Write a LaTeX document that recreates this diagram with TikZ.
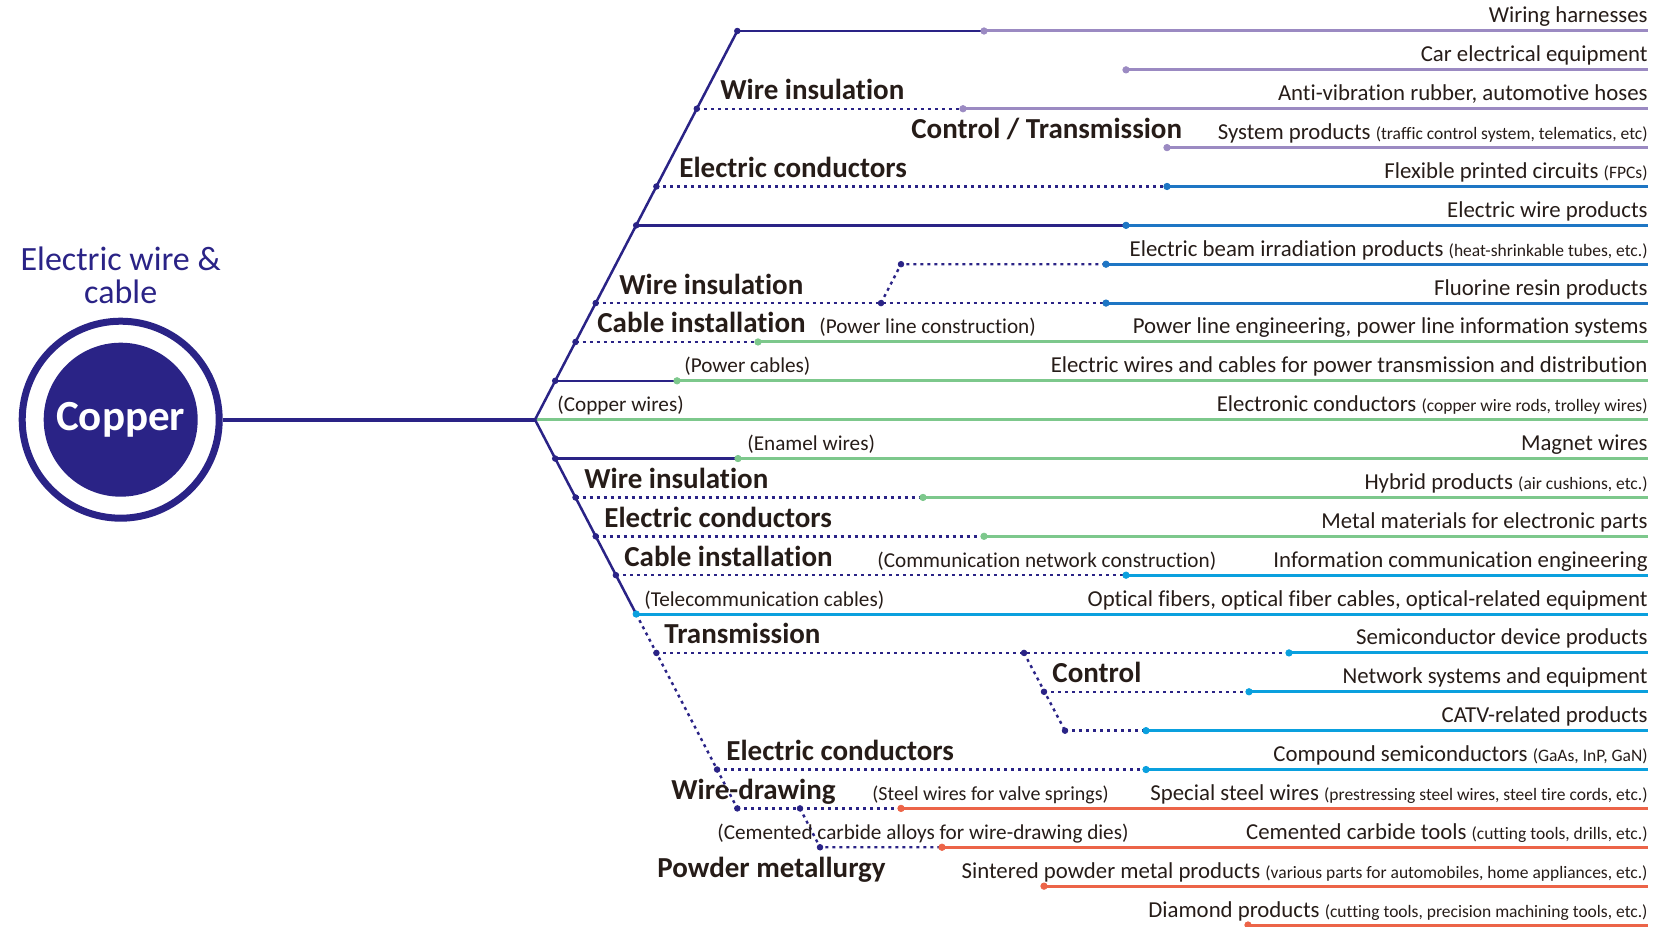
\documentclass[tikz,border=0pt]{standalone}
\usepackage{fontspec}
\setmainfont{Carlito}[Ligatures=CommonOff]
\usepackage{tikz}

\definecolor{navy}{RGB}{42,35,134}
\definecolor{lav}{RGB}{155,138,194}
\definecolor{azure}{RGB}{30,118,196}
\definecolor{sky}{RGB}{10,160,222}
\definecolor{leaf}{RGB}{125,200,140}
\definecolor{coral}{RGB}{236,100,72}
\definecolor{ink}{RGB}{38,28,24}
\newcommand{\parsmall}[1]{{\fontsize{8.75}{10}\selectfont #1}}

\begin{document}
\begin{tikzpicture}[x = 0.5pt, y = -19.435pt,
    trunk/.style = {navy, line width = 1.25pt},
    dots/.style = {navy, line width = 1.2pt, dash pattern = on 1.5pt off 2pt},
    feed/.style = {line width = 1.5pt},
    lab/.style = {anchor = base west, inner sep = 0pt, yshift = 4.5pt, text = ink, font = \fontsize{14.5}{16}\selectfont\bfseries},
    note/.style = {anchor = base west, inner sep = 0pt, yshift = 4pt, text = ink, font = \fontsize{10.6}{12}\selectfont},
    prod/.style = {anchor = base east, inner sep = 0pt, yshift = 4pt, text = ink, font = \fontsize{11.4}{13}\selectfont}]
            \useasboundingbox (0,-0.7975) rectangle (1661,23.051);

            \node (ring) [circle, draw = navy, line width = 3.5pt, minimum size = 98.5pt, inner sep = 0pt] at (120.7,10) {};
            \node (copper) [circle, fill = navy, minimum size = 77pt, inner sep = 0pt, text = white,
                font = \fontsize{21.5}{24}\selectfont\bfseries] at (120.7,10) {Copper};
            \node (title1) [anchor = base, text = navy, font = \fontsize{17}{17}\selectfont] at (120.7,6.149) {Electric wire \&};
            \node (title2) [anchor = base, text = navy, font = \fontsize{17}{17}\selectfont] at (120.7,7.023) {cable};

            \coordinate (J) at (535,10);
            \coordinate (u0) at (737.3,0);
            \coordinate (u2) at (696.8,2);
            \coordinate (u4) at (656.4,4);
            \coordinate (u5) at (636.2,5);
            \coordinate (u7) at (595.7,7);
            \coordinate (u8) at (575.5,8);
            \coordinate (u9) at (555.2,9);
            \coordinate (l11) at (555.2,11);
            \coordinate (l12) at (575.5,12);
            \coordinate (l13) at (595.7,13);
            \coordinate (l14) at (615.9,14);
            \coordinate (l15) at (636.2,15);
            \coordinate (l16) at (656.4,16);
            \coordinate (l19) at (717.1,19);
            \coordinate (l20) at (737.3,20);

            \coordinate (b7) at (881,7);
            \coordinate (b6) at (901,6);
            \coordinate (t16) at (1024,16);
            \coordinate (t17) at (1044,17);
            \coordinate (t18) at (1065,18);
            \coordinate (w20) at (800,20);
            \coordinate (w21) at (820,21);

            \path (984,0) coordinate (c0) (1126,1) coordinate (c1) (963,2) coordinate (c2)
                (1167,3) coordinate (c3) (1167,4) coordinate (c4) (1126,5) coordinate (c5)
                (1106,6) coordinate (c6) (1106,7) coordinate (c7) (758,8) coordinate (c8)
                (677,9) coordinate (c9) (738,11) coordinate (c11) (923,12) coordinate (c12)
                (984,13) coordinate (c13) (1126,14) coordinate (c14) (1289,16) coordinate (c16)
                (1249,17) coordinate (c17) (1146,18) coordinate (c18) (1146,19) coordinate (c19)
                (901,20) coordinate (c20) (942,21) coordinate (c21) (1044,22) coordinate (c22)
                (1248,23) coordinate (c23);

            \path (1648,0) coordinate (e0) (1648,1) coordinate (e1) (1648,2) coordinate (e2)
                (1648,3) coordinate (e3) (1648,4) coordinate (e4) (1648,5) coordinate (e5)
                (1648,6) coordinate (e6) (1648,7) coordinate (e7) (1648,8) coordinate (e8)
                (1648,9) coordinate (e9) (1648,10) coordinate (e10) (1648,11) coordinate (e11)
                (1648,12) coordinate (e12) (1648,13) coordinate (e13) (1648,14) coordinate (e14)
                (1648,15) coordinate (e15) (1648,16) coordinate (e16) (1648,17) coordinate (e17)
                (1648,18) coordinate (e18) (1648,19) coordinate (e19) (1648,20) coordinate (e20)
                (1648,21) coordinate (e21) (1648,22) coordinate (e22) (1648,23) coordinate (e23);

            \draw [lav, feed] (c0) -- (e0);
            \draw [lav, feed] (c1) -- (e1);
            \draw [lav, feed] (c2) -- (e2);
            \draw [lav, feed] (c3) -- (e3);
            \draw [azure, feed] (c4) -- (e4);
            \draw [azure, feed] (c5) -- (e5);
            \draw [azure, feed] (c6) -- (e6);
            \draw [azure, feed] (c7) -- (e7);
            \draw [leaf, feed] (c8) -- (e8);
            \draw [leaf, feed] (c9) -- (e9);
            \draw [leaf, feed] (J) -- (e10);
            \draw [leaf, feed] (c11) -- (e11);
            \draw [leaf, feed] (c12) -- (e12);
            \draw [leaf, feed] (c13) -- (e13);
            \draw [sky, feed] (c14) -- (e14);
            \draw [sky, feed] (l15) -- (e15);
            \draw [sky, feed] (c16) -- (e16);
            \draw [sky, feed] (c17) -- (e17);
            \draw [sky, feed] (c18) -- (e18);
            \draw [sky, feed] (c19) -- (e19);
            \draw [coral, feed] (c20) -- (e20);
            \draw [coral, feed] (c21) -- (e21);
            \draw [coral, feed] (c22) -- (e22);
            \draw [coral, feed] (c23) -- (e23);

            \draw [trunk, line width = 2pt] (ring.east) -- (J);
            \draw [trunk] (u0) -- (J) -- (l15);
            \draw [trunk] (u0) -- (c0);
            \draw [trunk] (u5) -- (c5);
            \draw [trunk] (u9) -- (c9);
            \draw [trunk] (l11) -- (c11);

            \draw [dots] (u2) -- (c2);
            \draw [dots] (u4) -- (c4);
            \draw [dots] (u7) -- (c7);
            \draw [dots] (b7) -- (b6) -- (c6);
            \draw [dots] (u8) -- (c8);
            \draw [dots] (l12) -- (c12);
            \draw [dots] (l13) -- (c13);
            \draw [dots] (l14) -- (c14);
            \draw [dots] (l15) -- (l20);
            \draw [dots] (l16) -- (c16);
            \draw [dots] (t16) -- (t18);
            \draw [dots] (t17) -- (c17);
            \draw [dots] (t18) -- (c18);
            \draw [dots] (l19) -- (c19);
            \draw [dots] (l20) -- (c20);
            \draw [dots] (w20) -- (w21) -- (c21);

            \draw [fill = navy, navy] (u0) circle(1.4pt);
            \draw [fill = navy, navy] (u2) circle(1.4pt);
            \draw [fill = navy, navy] (u4) circle(1.4pt);
            \draw [fill = navy, navy] (u5) circle(1.4pt);
            \draw [fill = navy, navy] (u7) circle(1.4pt);
            \draw [fill = navy, navy] (u8) circle(1.4pt);
            \draw [fill = navy, navy] (u9) circle(1.4pt);
            \draw [fill = navy, navy] (l11) circle(1.4pt);
            \draw [fill = navy, navy] (l12) circle(1.4pt);
            \draw [fill = navy, navy] (l13) circle(1.4pt);
            \draw [fill = navy, navy] (l14) circle(1.4pt);
            \draw [fill = navy, navy] (l16) circle(1.4pt);
            \draw [fill = navy, navy] (l19) circle(1.4pt);
            \draw [fill = navy, navy] (l20) circle(1.4pt);
            \draw [fill = navy, navy] (b7) circle(1.4pt);
            \draw [fill = navy, navy] (b6) circle(1.4pt);
            \draw [fill = navy, navy] (t16) circle(1.4pt);
            \draw [fill = navy, navy] (t17) circle(1.4pt);
            \draw [fill = navy, navy] (t18) circle(1.4pt);
            \draw [fill = navy, navy] (w20) circle(1.4pt);
            \draw [fill = navy, navy] (w21) circle(1.4pt);

            \draw [fill = lav, lav] (c0) circle(1.6pt);
            \draw [fill = lav, lav] (c1) circle(1.6pt);
            \draw [fill = lav, lav] (c2) circle(1.6pt);
            \draw [fill = lav, lav] (c3) circle(1.6pt);
            \draw [fill = azure, azure] (c4) circle(1.6pt);
            \draw [fill = azure, azure] (c5) circle(1.6pt);
            \draw [fill = azure, azure] (c6) circle(1.6pt);
            \draw [fill = azure, azure] (c7) circle(1.6pt);
            \draw [fill = leaf, leaf] (c8) circle(1.6pt);
            \draw [fill = leaf, leaf] (c9) circle(1.6pt);
            \draw [fill = leaf, leaf] (c11) circle(1.6pt);
            \draw [fill = leaf, leaf] (c12) circle(1.6pt);
            \draw [fill = leaf, leaf] (c13) circle(1.6pt);
            \draw [fill = sky, sky] (c14) circle(1.6pt);
            \draw [fill = sky, sky] (l15) circle(1.6pt);
            \draw [fill = sky, sky] (c16) circle(1.6pt);
            \draw [fill = sky, sky] (c17) circle(1.6pt);
            \draw [fill = sky, sky] (c18) circle(1.6pt);
            \draw [fill = sky, sky] (c19) circle(1.6pt);
            \draw [fill = coral, coral] (c20) circle(1.6pt);
            \draw [fill = coral, coral] (c21) circle(1.6pt);
            \draw [fill = coral, coral] (c22) circle(1.6pt);
            \draw [fill = coral, coral] (c23) circle(1.6pt);

            \node [lab] (wirins1) at (720,2) {Wire insulation};
            \node [lab] (ctrltrans) at (911,3) {Control / Transmission};
            \node [lab] (elcond1) at (679,4) {Electric conductors};
            \node [lab] (wirins2) at (619,7) {Wire insulation};
            \node [lab] (cabinst1) at (597,8) {Cable installation};
            \node [note] (powline) at (819,8) {(Power line construction)};
            \node [note] (powcab) at (684,9) {(Power cables)};
            \node [note] (copwire) at (557,10) {(Copper wires)};
            \node [note] (enamel) at (747,11) {(Enamel wires)};
            \node [lab] (wirins3) at (584,12) {Wire insulation};
            \node [lab] (elcond2) at (604,13) {Electric conductors};
            \node [lab] (cabinst2) at (624,14) {Cable installation};
            \node [note] (commnet) at (877,14) {(Communication network construction)};
            \node [note] (telecab) at (644,15) {(Telecommunication cables)};
            \node [lab] (trans) at (664,16) {Transmission};
            \node [lab] (ctrl) at (1052,17) {Control};
            \node [lab] (elcond3) at (726,19) {Electric conductors};
            \node [lab] (wiredraw) at (671,20) {Wire-drawing};
            \node [note, font = \fontsize{10}{12}\selectfont] (steelvs) at (872,20) {(Steel wires for valve springs)};
            \node [note] (cemdies) at (717,21) {(Cemented carbide alloys for wire-drawing dies)};
            \node [lab] (powmet) at (657,22) {Powder metallurgy};

            \node [prod] (p0) at (e0) {Wiring harnesses};
            \node [prod] (p1) at (e1) {Car electrical equipment};
            \node [prod] (p2) at (e2) {Anti-vibration rubber, automotive hoses};
            \node [prod] (p3) at (e3) {System products \parsmall{(traffic control system, telematics, etc)}};
            \node [prod] (p4) at (e4) {Flexible printed circuits \parsmall{(FPCs)}};
            \node [prod] (p5) at (e5) {Electric wire products};
            \node [prod] (p6) at (e6) {Electric beam irradiation products \parsmall{(heat-shrinkable tubes, etc.)}};
            \node [prod] (p7) at (e7) {Fluorine resin products};
            \node [prod] (p8) at (e8) {Power line engineering, power line information systems};
            \node [prod] (p9) at (e9) {Electric wires and cables for power transmission and distribution};
            \node [prod] (p10) at (e10) {Electronic conductors \parsmall{(copper wire rods, trolley wires)}};
            \node [prod] (p11) at (e11) {Magnet wires};
            \node [prod] (p12) at (e12) {Hybrid products \parsmall{(air cushions, etc.)}};
            \node [prod] (p13) at (e13) {Metal materials for electronic parts};
            \node [prod] (p14) at (e14) {Information communication engineering};
            \node [prod] (p15) at (e15) {Optical fibers, optical fiber cables, optical-related equipment};
            \node [prod] (p16) at (e16) {Semiconductor device products};
            \node [prod] (p17) at (e17) {Network systems and equipment};
            \node [prod] (p18) at (e18) {CATV-related products};
            \node [prod] (p19) at (e19) {Compound semiconductors \parsmall{(GaAs, InP, GaN)}};
            \node [prod] (p20) at (e20) {Special steel wires \parsmall{(prestressing steel wires, steel tire cords, etc.)}};
            \node [prod] (p21) at (e21) {Cemented carbide tools \parsmall{(cutting tools, drills, etc.)}};
            \node [prod] (p22) at (e22) {Sintered powder metal products \parsmall{(various parts for automobiles, home appliances, etc.)}};
            \node [prod] (p23) at (e23) {Diamond products \parsmall{(cutting tools, precision machining tools, etc.)}};
    \end{tikzpicture}
\end{document}
